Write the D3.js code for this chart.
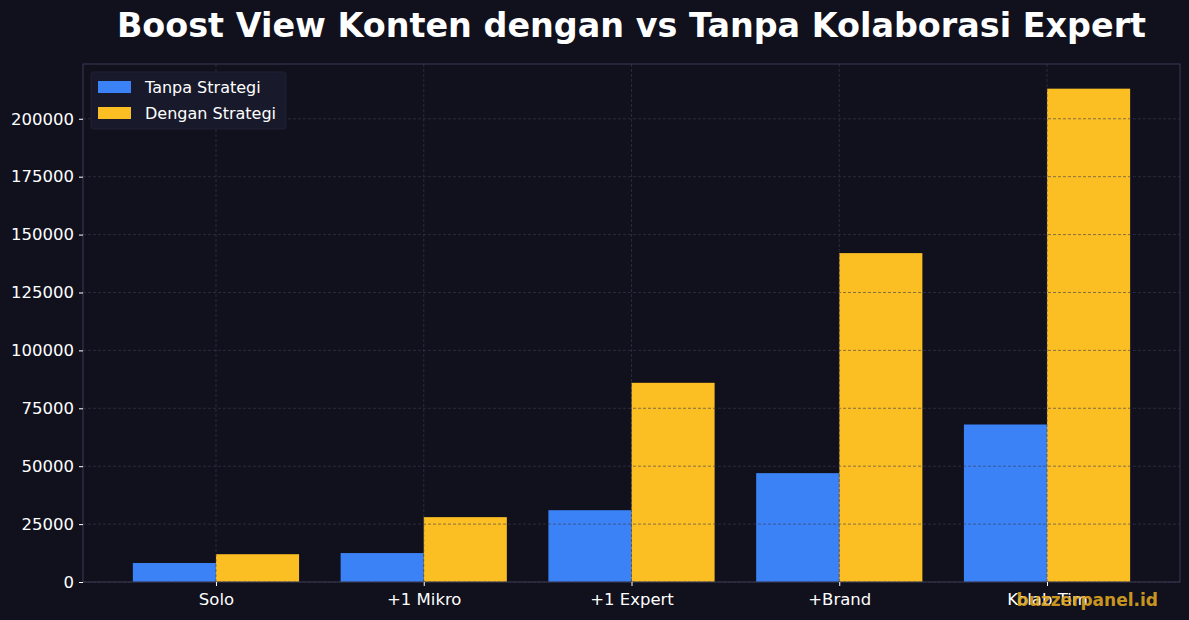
<!DOCTYPE html>
<html>
<head>
<meta charset="utf-8">
<script src="https://cdn.jsdelivr.net/npm/d3@7"></script>
<style>
  html, body { margin: 0; padding: 0; background: #11111e; }
  svg { display: block; font-family: 'DejaVu Sans', sans-serif; }
  .tick text { fill: #ffffff; font-size: 16.5px; font-family: 'DejaVu Sans', sans-serif; }
  .tick line { stroke: #ffffff; }
  .domain { display: none; }
</style>
</head>
<body>
<div id="canvas"></div>
<script>
// data
var categories = ['Solo', '+1 Mikro', '+1 Expert', '+Brand', 'Kolab Tim'];
var tanpaStrategi = [8200, 12500, 31000, 47000, 68000];
var denganStrategi = [12000, 28000, 86000, 142000, 213000];
var yTicks = [0, 25000, 50000, 75000, 100000, 125000, 150000, 175000, 200000];
var seriesNames = ['Tanpa Strategi', 'Dengan Strategi'];
var colors = ['#3b82f6', '#fbbf24'];

var W = 1189, H = 620;
var m = {t: 64, r: 9, b: 38, l: 83},
    w = W - m.l - m.r,
    h = H - m.t - m.b;

var svg = d3.select('#canvas')
  .append('svg')
  .attr('width', W)
  .attr('height', H);

svg.append('rect').attr('width', W).attr('height', H).attr('fill', '#11111e');

var plot = svg.append('g')
  .attr('transform', 'translate(' + m.l + ',' + m.t + ')');

// scales
var x = d3.scaleLinear()
  .domain([-0.64, categories.length - 1 + 0.64])
  .range([0, w]);

var yMax = d3.max(denganStrategi) * 1.05;
var y = d3.scaleLinear()
  .domain([0, yMax])
  .range([h, 0]);

var barW = x(0.4) - x(0);

// bars
var series = [tanpaStrategi, denganStrategi];
series.forEach(function(vals, s) {
  plot.selectAll('.bar' + s)
    .data(vals)
    .enter()
    .append('rect')
    .attr('class', 'bar' + s)
    .attr('x', function(d, i) { return s === 0 ? x(i) - barW : x(i); })
    .attr('y', function(d) { return y(d); })
    .attr('width', barW)
    .attr('height', function(d) { return h - y(d); })
    .attr('fill', colors[s]);
});

// grid (drawn above bars)
var grid = plot.append('g').attr('class', 'grid');
grid.selectAll('.hgrid')
  .data(yTicks)
  .enter()
  .append('line')
  .attr('x1', 0).attr('x2', w)
  .attr('y1', function(d) { return y(d); })
  .attr('y2', function(d) { return y(d); })
  .attr('stroke', '#3a3a50')
  .attr('stroke-opacity', 0.75)
  .attr('stroke-width', 0.8)
  .attr('stroke-dasharray', '3,2');

grid.selectAll('.vgrid')
  .data(categories)
  .enter()
  .append('line')
  .attr('x1', function(d, i) { return x(i); })
  .attr('x2', function(d, i) { return x(i); })
  .attr('y1', 0).attr('y2', h)
  .attr('stroke', '#3a3a50')
  .attr('stroke-opacity', 0.75)
  .attr('stroke-width', 0.8)
  .attr('stroke-dasharray', '3,2');

// frame
plot.append('rect')
  .attr('width', w).attr('height', h)
  .attr('fill', 'none')
  .attr('stroke', '#3a3a55')
  .attr('stroke-width', 1);

// axes
var axisY = d3.axisLeft(y)
  .tickValues(yTicks)
  .tickFormat(d3.format('d'))
  .tickSize(4)
  .tickPadding(5);

plot.append('g').attr('class', 'axis axis-y').call(axisY);

var axisX = d3.axisBottom(x)
  .tickValues(d3.range(categories.length))
  .tickFormat(function(d) { return categories[d]; })
  .tickSize(4)
  .tickPadding(7);

plot.append('g').attr('class', 'axis axis-x')
  .attr('transform', 'translate(0,' + h + ')')
  .call(axisX);

// title
svg.append('text')
  .attr('x', m.l + w / 2)
  .attr('y', 37)
  .attr('text-anchor', 'middle')
  .attr('fill', '#ffffff')
  .style('font-size', '33.4px')
  .style('font-weight', 'bold')
  .text('Boost View Konten dengan vs Tanpa Kolaborasi Expert');

// legend
var legend = plot.append('g').attr('transform', 'translate(8,8)');
legend.append('rect')
  .attr('width', 195).attr('height', 57)
  .attr('rx', 2)
  .attr('fill', '#181a2c')
  .attr('stroke', '#1e2033');

seriesNames.forEach(function(name, i) {
  legend.append('rect')
    .attr('x', 7).attr('y', 9 + i * 26)
    .attr('width', 33).attr('height', 12)
    .attr('fill', colors[i]);
  legend.append('text')
    .attr('x', 54).attr('y', 21 + i * 26)
    .attr('fill', '#ffffff')
    .style('font-size', '16px')
    .text(name);
});

// watermark (overlaps the last category label, as in the original)
svg.append('text')
  .attr('x', 1158)
  .attr('y', 606)
  .attr('text-anchor', 'end')
  .attr('fill', '#e0a820')
  .attr('fill-opacity', 0.9)
  .style('font-size', '17px')
  .style('font-weight', 'bold')
  .text('buzzerpanel.id');
</script>
</body>
</html>
